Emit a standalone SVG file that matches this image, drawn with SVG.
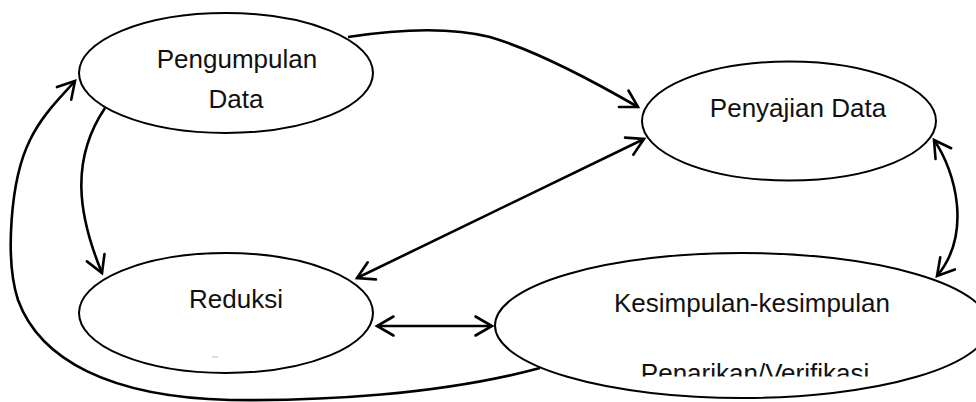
<svg xmlns="http://www.w3.org/2000/svg" width="976" height="402" viewBox="0 0 976 402">
<style>
.n{fill:#fff;stroke:#000;stroke-width:2}
.c{fill:none;stroke:#000;stroke-width:2.6}
.t{font-family:"Liberation Sans",Arial,sans-serif;font-size:26px;fill:#111;text-anchor:middle}
</style>
<defs>
<marker id="ah" viewBox="-20 -12 24 24" refX="0" refY="0" markerWidth="24" markerHeight="24" markerUnits="userSpaceOnUse" orient="auto-start-reverse" overflow="visible">
<path d="M-16.5,-9.5 L0,0 L-16.5,9.5" fill="none" stroke="#000" stroke-width="2.6" stroke-linecap="round" stroke-linejoin="miter"/>
</marker>
<clipPath id="clipK"><rect x="0" y="0" width="976" height="376.5"/></clipPath>
</defs>
<rect width="976" height="402" fill="#fff"/>
<g id="connectors">
<path class="c" d="M348,37 C400,29 450,27 490,37 C540,52 600,85 638,107" marker-end="url(#ah)"/>
<path class="c" d="M105,108 C70,160 78,215 102,273" marker-end="url(#ah)"/>
<path class="c" d="M540,368 C440,395 320,401 230,400 C110,397 40,360 18,300 C5,260 10,180 30,140 C42,115 60,98 75,81" marker-end="url(#ah)"/>
<path class="c" d="M357,278 L644,139" marker-start="url(#ah)" marker-end="url(#ah)"/>
<path class="c" d="M377,326 L492,326" marker-start="url(#ah)" marker-end="url(#ah)"/>
<path class="c" d="M934,140 C956,172 972,234 937,276" marker-start="url(#ah)" marker-end="url(#ah)"/>
</g>
<g id="pengumpulan">
<ellipse class="n" cx="226" cy="73" rx="147" ry="60"/>
<text class="t" x="237" y="68">Pengumpulan</text>
<text class="t" x="236" y="108">Data</text>
</g>
<g id="penyajian">
<ellipse class="n" cx="789" cy="121" rx="147" ry="59.5"/>
<text class="t" x="798" y="117">Penyajian Data</text>
</g>
<g id="reduksi">
<ellipse class="n" cx="226" cy="313" rx="147" ry="60"/>
<text class="t" x="236" y="308">Reduksi</text>
<rect x="212" y="356.5" width="6" height="1" fill="#bbb"/>
</g>
<g id="kesimpulan">
<ellipse class="n" cx="742" cy="325.5" rx="247" ry="72.5"/>
<text class="t" x="752" y="312">Kesimpulan-kesimpulan</text>
<text class="t" x="755" y="382" clip-path="url(#clipK)">Penarikan/Verifikasi</text>
</g>
</svg>
